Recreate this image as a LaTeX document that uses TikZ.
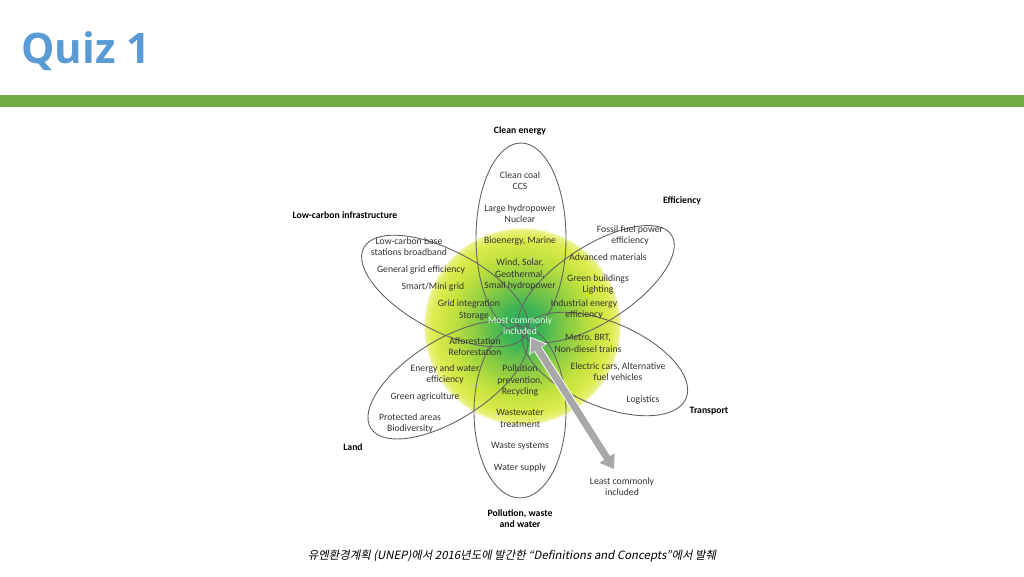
\documentclass[tikz,border=0pt]{standalone}
\usepackage{fontspec}
\setmainfont{Carlito}
\newfontfamily\titlefont{Open Sans}
\newfontfamily\korfont{Noto Sans CJK KR}[FakeSlant=0.2]
\usetikzlibrary{arrows.meta,shapes.geometric,calc}
\definecolor{titleblue}{RGB}{91,155,213}
\definecolor{bargreen}{RGB}{112,173,71}
\definecolor{petalgray}{RGB}{100,100,100}
\definecolor{arrowgray}{RGB}{168,168,168}
\definecolor{coregreen}{RGB}{40,168,95}
\definecolor{innergreen}{RGB}{62,180,85}
\definecolor{midgreen}{RGB}{142,205,66}
\definecolor{limegreen}{RGB}{196,226,62}
\definecolor{rimyellow}{RGB}{220,236,78}
\definecolor{paleyellow}{RGB}{234,242,135}
\pgfdeclareradialshading{flowercore}{\pgfpointorigin}{%
  color(0bp)=(coregreen); color(5bp)=(innergreen);
  color(12bp)=(midgreen); color(18bp)=(limegreen);
  color(22.5bp)=(rimyellow); color(24.4bp)=(paleyellow);
  color(25bp)=(white); color(50bp)=(white)}
\begin{document}
\begin{tikzpicture}[x=1pt, y=-1pt,
    petal/.style={draw=petalgray, line width=0.9pt, ellipse, inner sep=0},
    item/.style={align=center, inner sep=0, text=black!80,
      font=\fontsize{9.7}{11.3}\selectfont},
    sector/.style={item, text=black, font=\bfseries\fontsize{9.7}{11.3}\selectfont},
    bigarrow/.style={line width=7pt, draw=arrowgray,
      {Triangle[width=17pt,length=13pt]}-{Triangle[width=17pt,length=13pt]}}]
    \useasboundingbox (0,0) rectangle (1024,576);

    % title and bar
    \node[anchor=base west, inner sep=0, text=titleblue,
      font=\titlefont\bfseries\fontsize{42}{42}\selectfont] (title) at (21,63) {Quiz 1};
    \fill[bargreen] (0,95) rectangle (1024,107);

    % shaded core
    \node[circle, minimum size=198, inner sep=0, shading=flowercore] (core) at (522,326) {};

    % petals
    \node[petal, minimum width=190, minimum height=90, rotate=90] (clean) at (521,238) {};
    \node[petal, minimum width=180, minimum height=76, rotate=33] (effic) at (596,284) {};
    \node[petal, minimum width=176, minimum height=84, rotate=-23] (trans) at (605,364) {};
    \node[petal, minimum width=172, minimum height=92, rotate=90] (pollu) at (520,412) {};
    \node[petal, minimum width=182, minimum height=80, rotate=32] (land) at (448,380) {};
    \node[petal, minimum width=184, minimum height=80, rotate=-28] (lowc) at (445,291) {};

    % sector names
    \node[sector] (cleanlbl) at (520,131) {Clean energy};
    \node[sector] (efficlbl) at (682,201) {Efficiency};
    \node[sector] (lowclbl) at (345,215) {Low-carbon infrastructure};
    \node[sector] (landlbl) at (353,447) {Land};
    \node[sector] (translbl) at (709,411) {Transport};
    \node[sector] (pollulbl) at (520,518.5) {Pollution, waste\\and water};

    % clean energy
    \node[item] (ce1) at (520,180.5) {Clean coal\\CCS};
    \node[item] (ce2) at (520,213.5) {Large hydropower\\Nuclear};
    \node[item] (ce3) at (520,241) {Bioenergy, Marine};
    \node[item] (ce4) at (520,274.5) {Wind, Solar,\\Geothermal,\\Small hydropower};

    % efficiency
    \node[item] (ef1) at (630,235.5) {Fossil fuel power\\efficiency};
    \node[item] (ef2) at (608,257) {Advanced materials};
    \node[item] (ef3) at (598,284.5) {Green buildings\\Lighting};
    \node[item] (ef4) at (584,309.5) {Industrial energy\\efficiency};

    % low-carbon infrastructure
    \node[item] (lc1) at (409,246.5) {Low-carbon base\\stations broadband};
    \node[item] (lc2) at (421,270) {General grid efficiency};
    \node[item] (lc3) at (433,287) {Smart/Mini grid};
    \node[item] (lc4) at (469,310) {Grid integration\\\hspace*{10pt}Storage};

    % land
    \node[item] (la1) at (475,347) {Afforestation\\Reforestation};
    \node[item] (la2) at (445,374.5) {Energy and water\\efficiency};
    \node[item] (la3) at (425,397) {Green agriculture};
    \node[item] (la4) at (410,423.5) {Protected areas\\Biodiversity};

    % pollution, waste and water
    \node[item] (pw1) at (520,380.5) {Pollution\\prevention,\\Recycling};
    \node[item] (pw2) at (520,418.5) {Wastewater\\treatment};
    \node[item] (pw3) at (520,446) {Waste systems};
    \node[item] (pw4) at (520,468) {Water supply};

    % transport
    \node[item] (tr1) at (588,343.5) {Metro, BRT,\\Non-diesel trains};
    \node[item] (tr2) at (618,371.5) {Electric cars, Alternative\\fuel vehicles};
    \node[item] (tr3) at (643,400) {Logistics};

    % most / least
    \node[item, text=white!88!green] (most) at (520,325.5) {Most commonly\\included};
    \node[item] (least) at (622,486.5) {Least commonly\\included};
    \coordinate (arrtop) at (531,338);
    \coordinate (arrbot) at (614,469);
    \draw[bigarrow, draw=white, line width=9pt,
      {Triangle[width=20pt,length=15pt]}-] ($(arrtop)!-1.5pt!(arrbot)$) -- (arrbot);
    \draw[bigarrow] (arrtop) -- (arrbot);

    % source
    \node[inner sep=0, font=\korfont\fontsize{11.4}{13}\selectfont] (source) at (512,556)
      {유엔환경계획 (UNEP)에서 2016년도에 발간한 “Definitions and Concepts”에서 발췌};
\end{tikzpicture}
\end{document}
